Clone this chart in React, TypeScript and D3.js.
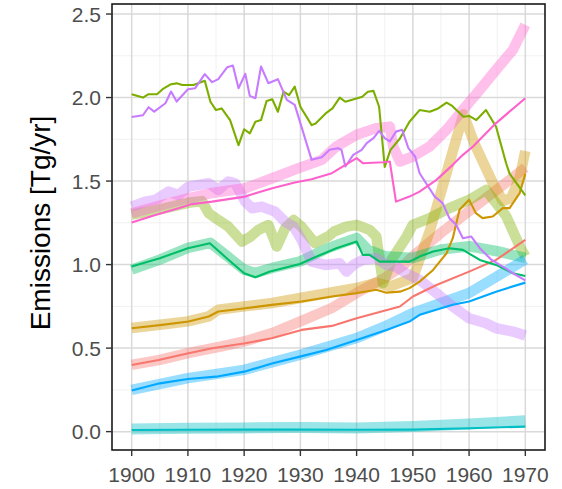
import React from "react";
import * as d3 from "d3";

type P = [number, number];

const xTicks = [1900, 1910, 1920, 1930, 1940, 1950, 1960, 1970];
const yTicks = [0, 0.5, 1.0, 1.5, 2.0, 2.5];
const yTickLabels = ["0.0", "0.5", "1.0", "1.5", "2.0", "2.5"];
const xMinor = [1905, 1915, 1925, 1935, 1945, 1955, 1965];
const yMinor = [0.25, 0.75, 1.25, 1.75, 2.25];

const seriesNames = ["red", "gold", "olive", "green", "cyan", "blue", "purple", "pink"];
const seriesColors = ["#F8766D", "#CD9600", "#7CAE00", "#00BE67", "#00BFC4", "#00A9FF", "#C77CFF", "#FF61CC"];

// thick translucent series
const redFaint: P[] = [[1900,0.40],[1905,0.43],[1910,0.47],[1916,0.51],[1920,0.54],[1925,0.59],[1930,0.66],[1935.6,0.74],[1940,0.83],[1945,0.92],[1948.5,1.0],[1950,1.05],[1955,1.19],[1960,1.32],[1965,1.45],[1970,1.58]];
const goldFaint: P[] = [[1900,0.62],[1905,0.64],[1910,0.66],[1913.7,0.69],[1915.4,0.73],[1920,0.75],[1925,0.77],[1930,0.80],[1935,0.83],[1940,0.86],[1943.5,0.89],[1946,0.87],[1950,0.92],[1953,1.2],[1956,1.55],[1959,1.9],[1961,1.72],[1964.2,1.49],[1966,1.38],[1967.5,1.40],[1969,1.52],[1970,1.68]];
const oliveFaint: P[] = [[1900,1.30],[1905,1.33],[1910,1.37],[1912.5,1.38],[1913.7,1.307],[1915.4,1.267],[1917.2,1.227],[1919.6,1.138],[1921,1.164],[1922.5,1.207],[1924.3,1.237],[1925.8,1.108],[1927.3,1.218],[1928.8,1.267],[1930.2,1.227],[1932.6,1.128],[1935,1.17],[1936,1.198],[1938.2,1.227],[1940,1.238],[1942.3,1.208],[1943.5,1.168],[1944.7,0.889],[1946.2,1.028],[1948.9,1.168],[1950,1.238],[1953,1.278],[1956.5,1.338],[1960,1.387],[1963,1.447],[1966.6,1.29],[1969,1.11],[1970,1.05]];
const greenFaint: P[] = [[1900,0.97],[1905,1.03],[1910,1.10],[1914,1.13],[1917,1.05],[1920,0.97],[1922,0.95],[1925,0.98],[1930,1.02],[1935,1.10],[1940,1.16],[1942,1.09],[1945,1.05],[1950,1.04],[1955,1.09],[1960,1.11],[1965,1.08],[1970,1.04]];
const cyanFaint: P[] = [[1900,0.015],[1910,0.02],[1920,0.022],[1930,0.025],[1940,0.022],[1950,0.03],[1960,0.045],[1970,0.065]];
const blueFaint: P[] = [[1900,0.25],[1910,0.32],[1920,0.37],[1930,0.46],[1940,0.56],[1945,0.63],[1950,0.71],[1955,0.77],[1960,0.83],[1965,0.93],[1970,1.03]];
const purpleFaint: P[] = [[1900,1.347],[1902.4,1.377],[1904.2,1.387],[1906.6,1.437],[1908.3,1.417],[1910.1,1.467],[1911.9,1.477],[1913.7,1.487],[1915.4,1.447],[1917.2,1.497],[1918.4,1.487],[1920.2,1.377],[1921.4,1.337],[1923.1,1.347],[1925.5,1.317],[1927.3,1.257],[1928.8,1.227],[1930.2,1.148],[1932,1.018],[1934.4,0.998],[1937,1.008],[1938.2,0.958],[1939.4,0.998],[1941.1,1.028],[1943.5,1.038],[1945.3,0.998],[1947,0.988],[1948.8,0.948],[1951.2,0.908],[1954.2,0.829],[1957.1,0.749],[1960,0.679],[1963,0.649],[1964.8,0.619],[1967.8,0.599],[1970,0.575]];
const pinkFaint: P[] = [[1900,1.307],[1905.4,1.357],[1910,1.397],[1914,1.427],[1920.2,1.457],[1925,1.517],[1929.7,1.577],[1933.8,1.627],[1936.4,1.707],[1940,1.777],[1943.5,1.817],[1945.9,1.826],[1946.5,1.707],[1947.7,1.617],[1950,1.647],[1953,1.707],[1956,1.807],[1958.9,1.926],[1961.9,2.046],[1964.8,2.166],[1967.8,2.286],[1970,2.435]];

// thin series
const redThin: P[] = [[1900,0.399],[1904.8,0.429],[1910.1,0.469],[1914.3,0.499],[1920.2,0.529],[1924.9,0.559],[1930.2,0.609],[1935.6,0.633],[1940,0.679],[1947.7,0.749],[1950,0.809],[1954.2,0.878],[1960,0.958],[1964.8,1.028],[1970,1.148]];
const goldThin: P[] = [[1900,0.619],[1905.4,0.639],[1910.1,0.659],[1913.7,0.689],[1915.4,0.719],[1920.2,0.739],[1924.9,0.759],[1930.2,0.779],[1935.6,0.809],[1940,0.829],[1943.5,0.849],[1945.3,0.832],[1947.7,0.838],[1949.4,0.859],[1951.2,0.898],[1953.6,0.968],[1956,1.068],[1957.1,1.158],[1958.3,1.328],[1960,1.388],[1961.2,1.308],[1962.4,1.278],[1964.2,1.288],[1966,1.338],[1967.2,1.338],[1969,1.428],[1970,1.543]];
const oliveThin: P[] = [[1900,2.02],[1902,2.0],[1903,2.02],[1904.5,2.02],[1905.5,2.05],[1907,2.08],[1908,2.085],[1909,2.075],[1911,2.075],[1913,2.1],[1914,1.975],[1915,1.925],[1916,1.935],[1917.5,1.865],[1919,1.715],[1920,1.81],[1921,1.785],[1922,1.855],[1923,1.865],[1924,1.98],[1925,1.99],[1926,1.915],[1927,2.035],[1928,2.015],[1929,2.065],[1930,1.945],[1932,1.835],[1932.7,1.845],[1934.5,1.905],[1935.7,1.935],[1937,2.0],[1938,1.975],[1939.5,1.99],[1941,2.005],[1942,2.035],[1943,2.04],[1944,1.945],[1945,1.585],[1946,1.685],[1947.7,1.755],[1949.4,1.855],[1951.2,1.925],[1953,1.915],[1954.5,1.935],[1956,1.97],[1957,1.95],[1959,1.885],[1960,1.89],[1961.3,1.865],[1963,1.925],[1964.8,1.825],[1966.6,1.605],[1967.2,1.545],[1970,1.415]];
const greenThin: P[] = [[1900,0.988],[1905,1.038],[1910,1.098],[1913.9,1.128],[1916.9,1.038],[1920,0.948],[1922,0.924],[1924.6,0.958],[1929.9,1.004],[1932.9,1.048],[1936.4,1.098],[1940,1.138],[1941.1,1.058],[1942.3,1.058],[1944.1,1.018],[1947,1.018],[1949.4,1.018],[1951.2,1.048],[1953.6,1.078],[1956.5,1.098],[1958.9,1.088],[1961.9,1.028],[1964.8,0.998],[1967.8,0.948],[1970,0.932]];
const cyanThin: P[] = [[1900,0.01],[1910,0.011],[1920,0.012],[1930,0.012],[1940,0.011],[1950,0.012],[1960,0.02],[1970,0.03]];
const blueThin: P[] = [[1900,0.246],[1905,0.289],[1910,0.315],[1915,0.329],[1920,0.359],[1925.1,0.409],[1929.9,0.449],[1934.6,0.489],[1940,0.549],[1945.3,0.609],[1949.4,0.659],[1951.2,0.699],[1957.1,0.759],[1960,0.779],[1964.8,0.838],[1970,0.892]];
const purpleThin: P[] = [[1900,1.883],[1902,1.894],[1903,1.942],[1904,1.916],[1906,1.966],[1907,2.036],[1908,1.976],[1910,2.05],[1911.3,2.056],[1913,2.14],[1914.3,2.092],[1915.4,2.11],[1917,2.182],[1918,2.192],[1919,2.056],[1920.2,2.142],[1921,2.01],[1922,1.996],[1923,2.186],[1924.3,2.086],[1926,2.11],[1927.6,1.986],[1929,1.956],[1932,1.627],[1933.8,1.643],[1935.2,1.687],[1936.7,1.697],[1937.3,1.687],[1938,1.587],[1939.4,1.657],[1940.9,1.687],[1941.8,1.727],[1943,1.757],[1944,1.8],[1945,1.757],[1945.9,1.737],[1947,1.796],[1948.1,1.807],[1949.2,1.697],[1950.4,1.647],[1951.2,1.547],[1953.9,1.407],[1955.3,1.368],[1956.5,1.278],[1957.7,1.238],[1958.9,1.158],[1960.4,1.168],[1961.9,1.098],[1964,1.028],[1966,0.988],[1967.8,0.948],[1970,0.905]];
const pinkThin: P[] = [[1900,1.252],[1904.2,1.297],[1908.3,1.337],[1910.7,1.362],[1914.3,1.377],[1917.2,1.392],[1920.2,1.407],[1922,1.427],[1925,1.457],[1929,1.491],[1932,1.511],[1935.6,1.547],[1940,1.637],[1941.1,1.607],[1944.7,1.613],[1945.9,1.617],[1947,1.377],[1949.4,1.407],[1951.2,1.437],[1954.2,1.507],[1957.1,1.597],[1958.9,1.657],[1960.7,1.707],[1964.8,1.847],[1970,1.996]];

const faintSeries = [redFaint, goldFaint, oliveFaint, greenFaint, cyanFaint, blueFaint, purpleFaint, pinkFaint];
const thinSeries = [redThin, goldThin, oliveThin, greenThin, cyanThin, blueThin, purpleThin, pinkThin];

const W = 562, H = 489;
const PL = 112, PR = 545, PT = 4, PB = 450;

export default function App() {
  const x = d3.scaleLinear().domain([1896.5, 1973.5]).range([PL, PR]);
  const y = d3.scaleLinear().domain([-0.11, 2.56]).range([PB, PT]);
  const line = d3.line<P>().x(d => x(d[0])).y(d => y(d[1]));
  const font = "'Liberation Sans', Arial, Helvetica, sans-serif";
  return (
    <div style={{ position: "absolute", left: 0, top: 0 }}>
      <svg width={W} height={H} style={{ display: "block", background: "#fff" }}>
        <defs>
          <clipPath id="panel"><rect x={PL} y={PT} width={PR - PL} height={PB - PT} /></clipPath>
        </defs>
        <rect x={PL} y={PT} width={PR - PL} height={PB - PT} fill="#fff" />
        {xMinor.map(v => <line key={"xm" + v} x1={x(v)} x2={x(v)} y1={PT} y2={PB} stroke="#EFEFEF" strokeWidth={0.9} />)}
        {yMinor.map(v => <line key={"ym" + v} x1={PL} x2={PR} y1={y(v)} y2={y(v)} stroke="#EFEFEF" strokeWidth={0.9} />)}
        {xTicks.map(v => <line key={"xg" + v} x1={x(v)} x2={x(v)} y1={PT} y2={PB} stroke="#D9D9D9" strokeWidth={1.5} />)}
        {yTicks.map(v => <line key={"yg" + v} x1={PL} x2={PR} y1={y(v)} y2={y(v)} stroke="#D9D9D9" strokeWidth={1.5} />)}
        <g clipPath="url(#panel)">
          {faintSeries.map((s, i) => (
            <path key={"f" + seriesNames[i]} d={line(s) || ""} fill="none" stroke={seriesColors[i]} strokeOpacity={0.4} strokeWidth={i === 4 ? 11 : 10.5} strokeLinejoin="round" strokeLinecap="butt" />
          ))}
          {thinSeries.map((s, i) => (
            <path key={"t" + seriesNames[i]} d={line(s) || ""} fill="none" stroke={seriesColors[i]} strokeWidth={2.1} strokeLinejoin="round" />
          ))}
        </g>
        <rect x={PL} y={PT} width={PR - PL} height={PB - PT} fill="none" stroke="#1A1A1A" strokeWidth={1.6} />
        {yTicks.map((v, i) => (
          <g key={"yt" + v}>
            <line x1={PL - 6} x2={PL} y1={y(v)} y2={y(v)} stroke="#333" strokeWidth={1.4} />
            <text x={PL - 11} y={y(v)} dy="0.36em" textAnchor="end" fontFamily={font} fontSize={21} fill="#4D4D4D">{yTickLabels[i]}</text>
          </g>
        ))}
        {xTicks.map(v => (
          <g key={"xt" + v}>
            <line x1={x(v)} x2={x(v)} y1={PB} y2={PB + 6} stroke="#333" strokeWidth={1.4} />
            <text x={x(v)} y={481.5} textAnchor="middle" fontFamily={font} fontSize={21} fill="#4D4D4D">{v}</text>
          </g>
        ))}
        <text transform={`translate(50,${(PT + PB) / 2 - 4}) rotate(-90)`} textAnchor="middle" fontFamily={font} fontSize={28} fill="#000">Emissions [Tg/yr]</text>
      </svg>
    </div>
  );
}
